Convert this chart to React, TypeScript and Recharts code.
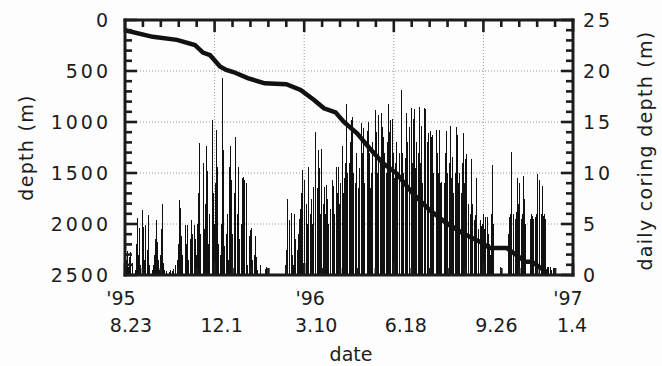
import React from 'react';
import { ComposedChart, Bar, Line, XAxis, YAxis, CartesianGrid, ReferenceLine } from 'recharts';

// daily coring depth (m), one value per day starting 1995-08-23
const dailyCoring: number[] = [
  0, 2.2, 1.5, 2.4, 0.8, 1.8, 2.3, 0, 1.2, 0.5,
  0, 0, 0.5, 3.0, 5.6, 2.0, 4.6, 1.0, 0, 3.5,
  6.4, 4.7, 1.5, 4.9, 0, 2.5, 5.9, 1.0, 0.5, 0,
  0, 0.5, 1.0, 2.0, 3.5, 5.4, 3.2, 1.5, 0, 0.5,
  2.0, 4.5, 7.0, 1.2, 0.5, 0, 0.4, 0.6, 0.5, 0,
  0.3, 0.5, 0, 0.4, 0.6, 0, 1.0, 4.7, 2.0, 1.5,
  3.0, 7.4, 6.6, 3.8, 2.0, 0, 4.0, 5.1, 4.9, 3.0,
  4.9, 1.5, 0, 3.5, 5.4, 4.0, 2.0, 0, 4.9, 3.5,
  2.0, 5.0, 8.0, 12.9, 4.0, 0, 6.0, 9.6, 11.0, 4.5,
  7.0, 12.6, 10.2, 3.0, 6.0, 10.0, 5.5, 0, 15.2, 8.0,
  5.0, 9.0, 14.2, 10.6, 3.0, 7.4, 0, 2.0, 5.0, 19.3,
  12.3, 2.8, 0, 4.0, 6.0, 5.0, 1.5, 10.6, 12.6, 9.3,
  4.0, 0, 8.0, 13.5, 13.7, 13.1, 6.0, 10.6, 3.5, 0,
  5.0, 9.5, 9.6, 9.3, 2.5, 7.1, 9.0, 1.0, 0, 3.8,
  4.4, 4.6, 1.5, 4.1, 3.9, 2.0, 3.8, 1.8, 0.5, 0,
  0, 1.0, 0, 0, 0, 0, 0, 0.6, 0.8, 0,
  0, 0, 0, 0, 0, 0, 0, 0, 0, 0,
  0, 0, 0, 0, 0, 0, 0, 0, 0, 1.0,
  2.5, 7.5, 4.7, 1.5, 5.4, 0, 6.1, 2.0, 1.0, 6.0,
  3.5, 1.5, 0, 2.5, 4.0, 5.5, 6.5, 8.0, 10.3, 0,
  9.3, 6.0, 9.3, 7.0, 5.0, 10.6, 0, 6.0, 7.5, 5.0,
  8.6, 6.5, 10.0, 14.0, 0, 8.5, 12.3, 10.5, 6.0, 12.4,
  8.0, 0, 7.0, 8.6, 6.0, 8.8, 7.5, 5.0, 0, 6.5,
  7.5, 8.0, 9.3, 8.7, 6.0, 0, 10.6, 8.0, 10.6, 7.0,
  10.0, 9.0, 0, 12.6, 8.0, 9.5, 11.0, 16.8, 10.0, 0,
  9.0, 11.0, 13.0, 15.2, 15.5, 10.0, 0, 9.0, 12.0, 15.7,
  11.0, 8.5, 10.5, 0, 14.9, 12.0, 14.4, 9.0, 11.0, 10.0,
  0, 14.1, 15.0, 12.0, 8.5, 10.0, 13.0, 0, 9.5, 12.0,
  16.2, 14.0, 10.0, 15.7, 0, 11.0, 15.9, 14.5, 9.0, 13.5,
  12.0, 0, 10.0, 13.0, 16.8, 14.0, 15.2, 11.0, 0, 15.3,
  12.0, 9.5, 11.0, 13.0, 10.0, 0, 12.0, 19.9, 15.0, 18.1,
  12.0, 10.0, 0, 11.5, 15.9, 13.0, 9.5, 12.0, 14.5, 0,
  16.4, 11.0, 15.3, 16.3, 10.5, 13.0, 0, 16.6, 12.0, 16.5,
  11.0, 14.6, 9.0, 0, 16.4, 16.3, 12.0, 10.0, 13.0, 13.9,
  0, 14.1, 13.5, 13.7, 10.0, 8.0, 11.0, 0, 14.2, 12.0,
  10.0, 14.2, 9.0, 9.1, 0, 8.3, 7.0, 9.0, 12.0, 14.1,
  10.0, 0, 11.0, 14.6, 9.5, 14.2, 11.6, 8.0, 0, 10.0,
  14.5, 13.7, 9.0, 10.0, 7.5, 0, 8.0, 11.0, 13.9, 9.0,
  11.4, 11.9, 0, 7.0, 9.5, 8.2, 6.0, 11.4, 7.0, 0,
  5.4, 5.9, 9.5, 8.7, 5.6, 4.5, 0, 5.4, 4.8, 5.0,
  6.0, 4.5, 5.7, 0, 5.0, 5.7, 4.0, 3.0, 2.0, 6.0,
  10.8, 5.0, 0, 0, 0, 0, 0, 0, 0, 0.8,
  0, 0, 0, 0, 0, 0, 0, 0, 4.0, 5.7,
  6.0, 12.1, 8.0, 5.7, 6.0, 0, 5.5, 6.2, 9.5, 7.0,
  9.0, 5.7, 0, 5.5, 6.0, 9.7, 7.5, 5.0, 0, 0,
  0, 0, 0, 5.5, 6.0, 5.8, 5.5, 0, 5.7, 6.0,
  9.9, 7.0, 6.0, 9.3, 0, 6.0, 8.7, 5.8, 6.0, 5.5,
  7.7, 5.0, 0.8, 0.8, 0, 0.8, 0.5, 0, 0.7, 0,
  0, 0, 0, 0, 0, 0, 0, 0, 0, 0,
  0, 0, 0, 0, 0, 0, 0, 0, 0, 0,
];

// cumulative drilled depth (m) read at these days
const depthDays: number[] = [0, 31, 58, 78, 87, 95, 106, 113, 121, 137, 156, 180, 196, 211, 222, 235, 244, 259, 273, 288, 303, 321, 340, 359, 377, 396, 407, 426, 447, 454, 472];
const depthValues: number[] = [100, 165, 195, 245, 320, 345, 455, 490, 510, 570, 621, 630, 686, 784, 866, 905, 997, 1111, 1258, 1405, 1503, 1699, 1863, 1993, 2091, 2173, 2235, 2235, 2370, 2370, 2480];

const depthTicks: number[] = [0, 100, 200, 300, 400, 500, 600, 700, 800, 900, 1000, 1100, 1200, 1300, 1400, 1500, 1600, 1700, 1800, 1900, 2000, 2100, 2200, 2300, 2400, 2500];
const depthLabelTicks: number[] = [0, 500, 1000, 1500, 2000, 2500];
const rateTicks: number[] = [0, 1, 2, 3, 4, 5, 6, 7, 8, 9, 10, 11, 12, 13, 14, 15, 16, 17, 18, 19, 20, 21, 22, 23, 24, 25];
const rateLabelTicks: number[] = [0, 5, 10, 15, 20, 25];
const dayTicks: number[] = [0, 20, 40, 60, 80, 100, 120, 140, 160, 180, 200, 220, 240, 260, 280, 300, 320, 340, 360, 380, 400, 420, 440, 460, 480, 500];
const dayLabelTicks: number[] = [0, 100, 200, 300, 400, 500];
const dateLabels: string[] = ['8.23', '12.1', '3.10', '6.18', '9.26', '1.4'];
const yearLabels: string[] = ["'95", '', "'96", '', '', "'97"];
const depthGrid: number[] = [500, 1000, 1500, 2000];
const dayGrid: number[] = [100, 200, 300, 400];

const table = dailyCoring.map((rate, day) => {
  const k = depthDays.indexOf(day);
  return { day, rate, depth: k >= 0 ? depthValues[k] : null };
});

const FONT = '"DejaVu Sans", Verdana, sans-serif';
const INK = '#1c1c1c';
const axisLine = { stroke: INK, strokeWidth: 3, strokeLinecap: 'square' as const };

// plot box size in pixels, used to turn tick-mark lengths into axis units
const PLOT_W = 448;
const PLOT_H = 255;
const DAY_MAX = 500;
const DEPTH_MAX = 2500;
const RATE_MAX = 25;
const MAJOR_PX = 12;
const MINOR_PX = 7;
const daysPerPx = DAY_MAX / PLOT_W;
const depthPerPx = DEPTH_MAX / PLOT_H;

// small typographic nudges so the labels sit where the original has them
const dateNudge = [6, 7, 12, 12, 13, -1];
const yearNudge = [-4, 0, 6, 0, 0, -5];

const LeftLabel = (p: any) => {
  const { x, y, payload } = p;
  return (
    <text x={x - 14} y={y} dy={7} textAnchor="end" fontSize={19} letterSpacing={3} fontFamily={FONT} fill={INK}>
      {payload.value}
    </text>
  );
};

const RightLabel = (p: any) => {
  const { x, y, payload } = p;
  return (
    <text x={x + 10} y={y} dy={7} textAnchor="start" fontSize={19} letterSpacing={3} fontFamily={FONT} fill={INK}>
      {payload.value}
    </text>
  );
};

const BottomLabel = (p: any) => {
  const { x, y, payload } = p;
  const i = dayLabelTicks.indexOf(payload.value);
  if (i < 0) return <g />;
  return (
    <g>
      {yearLabels[i] ? (
        <text x={x + yearNudge[i]} y={y + 30} textAnchor="middle" fontSize={19} fontFamily={FONT} fill={INK}>
          {yearLabels[i]}
        </text>
      ) : null}
      <text x={x + dateNudge[i]} y={y + 57} textAnchor="middle" fontSize={19} fontFamily={FONT} fill={INK}>
        {dateLabels[i]}
      </text>
    </g>
  );
};

const EmptyTick = () => <g />;

const LeftTitle = (p: any) => {
  const vb = p.viewBox;
  if (!vb) return null;
  const cx = vb.x + vb.width - 99;
  const cy = vb.y + vb.height / 2;
  return (
    <text x={cx} y={cy} transform={`rotate(-90 ${cx} ${cy})`} textAnchor="middle" dominantBaseline="central" fontSize={19} letterSpacing={1.3} fontFamily={FONT} fill={INK}>
      depth (m)
    </text>
  );
};

const RightTitle = (p: any) => {
  const vb = p.viewBox;
  if (!vb) return null;
  const cx = vb.x + 72;
  const cy = vb.y + vb.height / 2 + 3;
  return (
    <text x={cx} y={cy} transform={`rotate(-90 ${cx} ${cy})`} textAnchor="middle" dominantBaseline="central" fontSize={19} letterSpacing={1.3} fontFamily={FONT} fill={INK}>
      daily coring depth (m)
    </text>
  );
};

const BottomTitle = (p: any) => {
  const vb = p.viewBox;
  if (!vb) return null;
  return (
    <text x={vb.x + vb.width / 2 + 2} y={vb.y + 86} textAnchor="middle" fontSize={19} fontFamily={FONT} fill={INK}>
      date
    </text>
  );
};

const CrispBar = (p: any) => {
  const { x, y, width, height } = p;
  if (!height || height <= 0) return null;
  return <rect x={x} y={y} width={width} height={height} fill="#111" shapeRendering="crispEdges" />;
};

const tickProps = { stroke: INK, strokeWidth: 2.6, ifOverflow: 'visible' as const };

export default function App() {
  // inward tick marks, placed through the axes' own scales
  const marks: React.ReactNode[] = [];
  dayTicks.forEach((d) => {
    const len = (dayLabelTicks.includes(d) ? MAJOR_PX : MINOR_PX) * depthPerPx;
    marks.push(
      <ReferenceLine key={`t${d}`} xAxisId="bottom" yAxisId="left" segment={[{ x: d, y: 0 }, { x: d, y: len }]} {...tickProps} />,
      <ReferenceLine key={`b${d}`} xAxisId="bottom" yAxisId="left" segment={[{ x: d, y: DEPTH_MAX }, { x: d, y: DEPTH_MAX - len }]} {...tickProps} />
    );
  });
  depthTicks.forEach((v) => {
    const len = (depthLabelTicks.includes(v) ? MAJOR_PX : MINOR_PX) * daysPerPx;
    marks.push(
      <ReferenceLine key={`l${v}`} xAxisId="bottom" yAxisId="left" segment={[{ x: 0, y: v }, { x: len, y: v }]} {...tickProps} />
    );
  });
  rateTicks.forEach((r) => {
    const len = (rateLabelTicks.includes(r) ? MAJOR_PX : MINOR_PX) * daysPerPx;
    marks.push(
      <ReferenceLine key={`r${r}`} xAxisId="bottom" yAxisId="right" segment={[{ x: DAY_MAX - len, y: r }, { x: DAY_MAX, y: r }]} {...tickProps} />
    );
  });

  return (
    <div style={{ position: 'absolute', left: 0, top: 0, width: 662, height: 366, background: '#fdfdfd' }}>
      <ComposedChart width={662} height={366} data={table} margin={{ top: 10, right: 9, bottom: 11, left: 25 }}>
        <CartesianGrid
          xAxisId="bottom"
          yAxisId="left"
          horizontalValues={depthGrid}
          verticalValues={dayGrid}
          stroke="#9a9a9a"
          strokeDasharray="1 2"
        />
        <Bar dataKey="rate" xAxisId="bottom" yAxisId="right" fill="#111" barSize={1.2} shape={CrispBar} isAnimationActive={false} />
        <Line
          dataKey="depth"
          xAxisId="bottom"
          yAxisId="left"
          type="linear"
          stroke="#111"
          strokeWidth={4.5}
          dot={false}
          connectNulls
          isAnimationActive={false}
        />
        <XAxis
          xAxisId="bottom"
          dataKey="day"
          type="number"
          domain={[0, DAY_MAX]}
          ticks={dayLabelTicks}
          interval={0}
          height={80}
          tickSize={0}
          tickMargin={0}
          tickLine={false}
          axisLine={axisLine}
          tick={BottomLabel}
          label={{ content: BottomTitle }}
        />
        <XAxis
          xAxisId="top"
          orientation="top"
          type="number"
          domain={[0, DAY_MAX]}
          ticks={dayLabelTicks}
          interval={0}
          height={10}
          tickSize={0}
          tickMargin={0}
          tickLine={false}
          axisLine={axisLine}
          tick={EmptyTick}
        />
        <YAxis
          yAxisId="left"
          orientation="left"
          type="number"
          reversed
          domain={[0, DEPTH_MAX]}
          ticks={depthLabelTicks}
          interval={0}
          width={100}
          tickSize={0}
          tickMargin={0}
          tickLine={false}
          axisLine={axisLine}
          tick={LeftLabel}
          label={{ content: LeftTitle }}
        />
        <YAxis
          yAxisId="right"
          orientation="right"
          type="number"
          domain={[0, RATE_MAX]}
          ticks={rateLabelTicks}
          interval={0}
          width={80}
          tickSize={0}
          tickMargin={0}
          tickLine={false}
          axisLine={axisLine}
          tick={RightLabel}
          label={{ content: RightTitle }}
        />
        {marks}
      </ComposedChart>
    </div>
  );
}
